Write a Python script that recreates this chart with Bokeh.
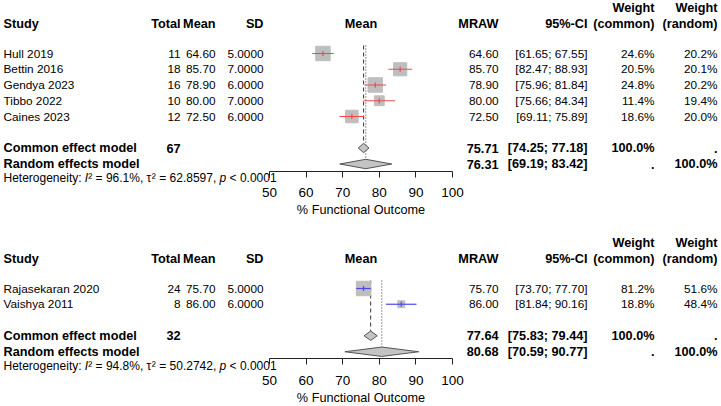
from bokeh.plotting import figure
from bokeh.models import Range1d, LinearAxis, FixedTicker
from bokeh.embed import file_html
from bokeh.resources import INLINE
from bokeh.core.properties import value
import math

# ---------------- data ----------------
# Panel 1
studies_1 = ["Hull 2019", "Bettin 2016", "Gendya 2023", "Tibbo 2022", "Caines 2023"]
total_1 = [11, 18, 16, 10, 12]
mean_1 = [64.60, 85.70, 78.90, 80.00, 72.50]
sd_1 = [5.0, 7.0, 6.0, 7.0, 6.0]
ci_lo_1 = [61.65, 82.47, 75.96, 75.66, 69.11]
ci_hi_1 = [67.55, 88.93, 81.84, 84.34, 75.89]
w_common_1 = [24.6, 20.5, 24.8, 11.4, 18.6]
w_random_1 = [20.2, 20.1, 20.2, 19.4, 20.0]
common_1 = [75.71, 74.25, 77.18]   # estimate, lower, upper
random_1 = [76.31, 69.19, 83.42]
n_total_1 = 67
i2_1, tau2_1, p_1 = 96.1, 62.8597, "< 0.0001"

# Panel 2
studies_2 = ["Rajasekaran 2020", "Vaishya 2011"]
total_2 = [24, 8]
mean_2 = [75.70, 86.00]
sd_2 = [5.0, 6.0]
ci_lo_2 = [73.70, 81.84]
ci_hi_2 = [77.70, 90.16]
w_common_2 = [81.2, 18.8]
w_random_2 = [51.6, 48.4]
common_2 = [77.64, 75.83, 79.44]
random_2 = [80.68, 70.59, 90.77]
n_total_2 = 32
i2_2, tau2_2, p_2 = 94.8, 50.2742, "< 0.0001"

ticks = [50, 60, 70, 80, 90, 100]
axis_title = "% Functional Outcome"

# ---------------- layout ----------------
W, H = 721, 406
PPU = 3.66          # pixels per outcome unit
AX_LEFT = 269       # pixel where the axis starts
X0 = 50 - AX_LEFT / PPU
X1 = X0 + W / PPU
ROW = 15.75
FONT = value("Liberation Sans")
TXT = "#000000"
FS = "11.8px"
FS_BOLD = "12.7px"
FS_HET = 12.0

# column anchors (pixels, right aligned unless noted)
C_STUDY, C_TOTAL, C_MEAN, C_SD = 3, 180, 215, 263
C_MRAW, C_CI, C_WC, C_WR = 498, 587, 654, 717

p = figure(width=W, height=H, x_range=Range1d(X0, X1), y_range=Range1d(H, 0),
           x_axis_type=None, y_axis_type=None, toolbar_location=None,
           output_backend="svg", min_border=0, outline_line_color=None)
p.extra_x_ranges = {"px": Range1d(0, W)}
p.background_fill_color = "white"

ARIAL = {' ': 278, ':': 278, ',': 278, '.': 278, '%': 889, '=': 584, '<': 584,
         'H': 722, 'e': 556, 't': 278, 'r': 333, 'o': 556, 'g': 556, 'n': 556,
         'i': 222, 'y': 500, 'I': 278, '²': 333, 'τ': 440, 'p': 556}


def text_width(s, size):
    return sum(ARIAL.get(c, 556) for c in s) * size / 1000.0


def txt(x, y, s, align="right", bold=False, italic=False, size=None, rng="px"):
    style = "bold" if bold else ("italic" if italic else "normal")
    if size is None:
        size = FS_BOLD if bold else FS
    p.text(x=[x], y=[y], text=[s], text_align=align, text_baseline="middle",
           text_font=FONT, text_font_size=size, text_font_style=style,
           text_color=TXT, x_range_name=rng)


def panel(top, names, total, mean, sd, lo, hi, wc, wr, fixed, rand, n_total,
          i2, tau2, pval, ci_color):
    y_head = top + 16
    rows = [top + 46 + i * ROW for i in range(len(names))]
    y_fix = rows[-1] + 31.5
    y_ran = y_fix + 16
    y_het = y_ran + 14
    y_axis = y_ran + 7
    dh = 4.7

    # headings
    txt(C_WC, top, "Weight", bold=True)
    txt(C_WR, top, "Weight", bold=True)
    txt(C_STUDY, y_head, "Study", align="left", bold=True)
    txt(C_TOTAL, y_head, "Total", bold=True)
    txt(C_MEAN, y_head, "Mean", bold=True)
    txt(C_SD, y_head, "SD", bold=True)
    txt(75, y_head, "Mean", align="center", bold=True, rng="default")
    txt(C_MRAW, y_head, "MRAW", bold=True)
    txt(C_CI, y_head, "95%-CI", bold=True)
    txt(C_WC, y_head, "(common)", bold=True)
    txt(C_WR, y_head, "(random)", bold=True)

    # study rows
    for i, y in enumerate(rows):
        txt(C_STUDY, y, names[i], align="left")
        txt(C_TOTAL, y, f"{total[i]}")
        txt(C_MEAN, y, f"{mean[i]:.2f}")
        txt(C_SD, y, f"{sd[i]:.4f}")
        txt(C_MRAW, y, f"{mean[i]:.2f}")
        txt(C_CI, y, f"[{lo[i]:.2f}; {hi[i]:.2f}]")
        txt(C_WC, y, f"{wc[i]:.1f}%")
        txt(C_WR, y, f"{wr[i]:.1f}%")

    # pooled rows
    txt(C_STUDY, y_fix, "Common effect model", align="left", bold=True)
    txt(C_TOTAL, y_fix, f"{n_total}", bold=True)
    txt(C_MRAW, y_fix, f"{fixed[0]:.2f}", bold=True)
    txt(C_CI, y_fix, f"[{fixed[1]:.2f}; {fixed[2]:.2f}]", bold=True)
    txt(C_WC, y_fix, "100.0%", bold=True)
    txt(C_WR, y_fix, ".", bold=True)
    txt(C_STUDY, y_ran, "Random effects model", align="left", bold=True)
    txt(C_MRAW, y_ran, f"{rand[0]:.2f}", bold=True)
    txt(C_CI, y_ran, f"[{rand[1]:.2f}; {rand[2]:.2f}]", bold=True)
    txt(C_WC, y_ran, ".", bold=True)
    txt(C_WR, y_ran, "100.0%", bold=True)

    # heterogeneity statement, assembled from pieces (italic symbols);
    # leading spaces are turned into offsets since SVG text trims them
    pieces = [("Heterogeneity: ", False), ("I", True), ("²", False),
              (f" = {i2:.1f}%, τ", False), ("²", False),
              (f" = {tau2:.4f}, ", False), ("p", True), (f" {pval}", False)]
    x = C_STUDY
    for s, it in pieces:
        body = s.lstrip(" ")
        lead = text_width(s[:len(s) - len(body)], FS_HET)
        txt(x + lead, y_het, body, align="left", italic=it, size=f"{FS_HET}px")
        x += text_width(s, FS_HET)

    # reference lines for the pooled estimates
    y_start = rows[0] - 8
    p.segment(x0=[fixed[0]], x1=[fixed[0]], y0=[y_start], y1=[y_fix - dh],
              line_color="#333333", line_width=1, line_dash="4 3")
    p.segment(x0=[rand[0]], x1=[rand[0]], y0=[y_start], y1=[y_ran - dh],
              line_color="#333333", line_width=1, line_dash="1 2")

    # study squares, sized by common-effect weight
    wmax = max(wc)
    sizes = [14.5 * math.sqrt(w / wmax) for w in wc]
    p.scatter(x=mean, y=rows, size=sizes, marker="square",
              fill_color="#BEBEBE", line_color="#BEBEBE")
    p.segment(x0=lo, x1=hi, y0=rows, y1=rows, line_color=ci_color, line_width=1.2)
    p.scatter(x=mean, y=rows, size=5, marker="dash", angle=math.pi / 2,
              line_color=ci_color, line_width=1.2)

    # pooled diamonds
    for est, yy in ((fixed, y_fix), (rand, y_ran)):
        p.patch(x=[est[1], est[0], est[2], est[0]], y=[yy, yy - dh, yy, yy + dh],
                fill_color="#C4C4C4", line_color="#555555", line_width=1)

    ax = LinearAxis(fixed_location=y_axis, bounds=(50, 100),
                    ticker=FixedTicker(ticks=ticks))
    ax.major_tick_out = 6
    ax.major_tick_in = 0
    ax.minor_tick_line_color = None
    ax.axis_line_color = "#222222"
    ax.major_tick_line_color = "#222222"
    ax.major_label_text_font = "Liberation Sans"
    ax.major_label_text_font_size = "13.5px"
    ax.major_label_text_color = TXT
    ax.major_label_standoff = 11
    p.add_layout(ax, "below")

    # axis title, centred under the axis
    txt(75, y_axis + 39, axis_title, align="center", size="12.7px", rng="default")


panel(7, studies_1, total_1, mean_1, sd_1, ci_lo_1, ci_hi_1, w_common_1, w_random_1,
      common_1, random_1, n_total_1, i2_1, tau2_1, p_1, "#F04848")
panel(242, studies_2, total_2, mean_2, sd_2, ci_lo_2, ci_hi_2, w_common_2, w_random_2,
      common_2, random_2, n_total_2, i2_2, tau2_2, p_2, "#4848F0")

open("out.html", "w").write(file_html(p, INLINE))
